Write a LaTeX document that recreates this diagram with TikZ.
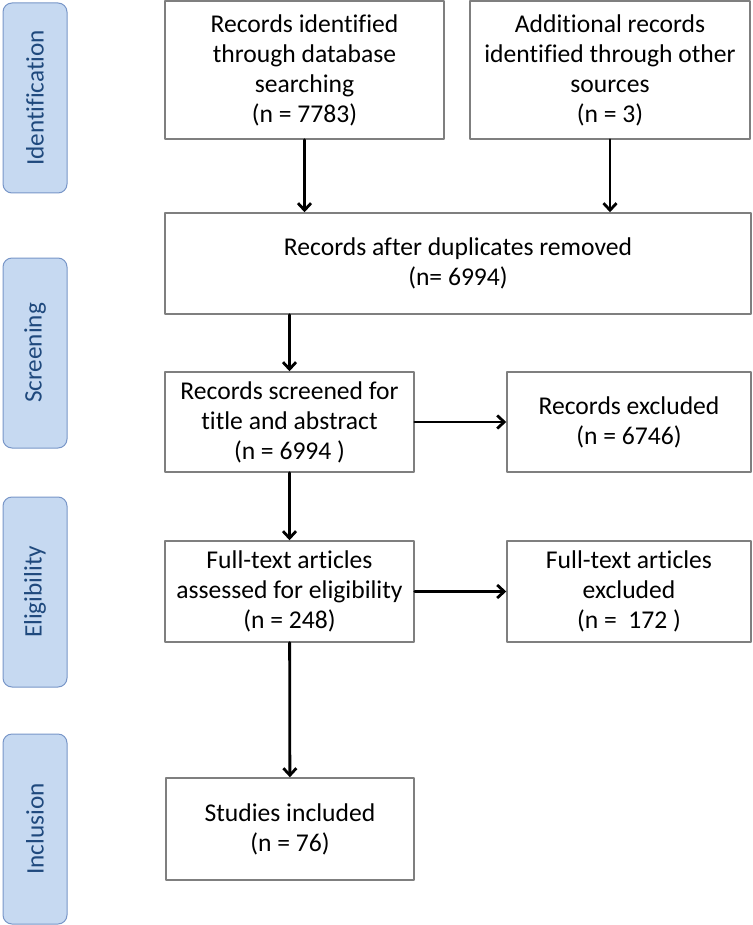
\documentclass[tikz,border=0pt]{standalone}
\usepackage{fontspec}
\setmainfont{Carlito}[Ligatures=NoCommon]
\usetikzlibrary{arrows.meta}
\definecolor{boxgray}{HTML}{7F7F7F}
\definecolor{stagefill}{HTML}{C6D9F1}
\definecolor{stageedge}{HTML}{7896C8}
\definecolor{stagetext}{HTML}{1F497D}
\tikzset{
  box/.style={draw=boxgray,line width=0.75pt,align=center,inner sep=0pt,
    font=\fontsize{12.8}{15}\selectfont},
  stage/.style={draw=stageedge,fill=stagefill,line width=0.5pt,rounded corners=4.5pt,
    rotate=90,minimum width=95pt,minimum height=32pt,inner sep=0pt,
    text=stagetext,font=\fontsize{12.6}{15}\selectfont},
  flow/.style={line width=1.4pt,-{Straight Barb[length=3.5pt,width=6.5pt]}}
}
\begin{document}
\begin{tikzpicture}[line cap=round,line join=round,x=0.5pt,y=-0.5pt]
\useasboundingbox (0,0) rectangle (753,925);
% stages
\node[stage] (sid) at (35,98) {Identification};
\node[stage] (sscr) at (35,353) {Screening};
\node[stage] (selig) at (35,592) {Eligibility};
\node[stage] (sinc) at (35,829) {Inclusion};
% boxes
\node[box,minimum width=139.5pt,minimum height=69pt] (db) at (304.5,70)
  {Records identified\\through database\\searching\\(n = 7783)};
\node[box,minimum width=140pt,minimum height=69pt] (other) at (610,70)
  {Additional records\\identified through other\\sources\\(n = 3)};
\node[box,minimum width=293pt,minimum height=50.5pt] (dup) at (458,263.5)
  {Records after duplicates removed\\(n= 6994)};
\node[box,minimum width=124.5pt,minimum height=50pt] (scr) at (289.5,422)
  {Records screened for\\title and abstract\\(n = 6994 )};
\node[box,minimum width=122pt,minimum height=50pt] (excl) at (629,422)
  {Records excluded\\(n = 6746)};
\node[box,minimum width=124.5pt,minimum height=50.5pt] (ft) at (289.5,591.5)
  {Full-text articles\\assessed for eligibility\\(n = 248)};
\node[box,minimum width=122pt,minimum height=50.5pt] (ftexcl) at (629,591.5)
  {Full-text articles\\excluded\\(n =\ \ 172 )};
\node[box,minimum width=124pt,minimum height=51pt] (incl) at (290,829)
  {Studies included\\(n = 76)};
% arrows
\draw[flow] (db) -- (db |- dup.north);
\draw[flow] (other) -- (other |- dup.north);
\draw[flow] (dup.south -| scr.north) -- (scr);
\draw[flow] (scr) -- (excl);
\draw[flow] (scr) -- (ft);
\draw[flow] (ft) -- (ftexcl);
\draw[flow] (ft) -- (incl);
\end{tikzpicture}
\end{document}
